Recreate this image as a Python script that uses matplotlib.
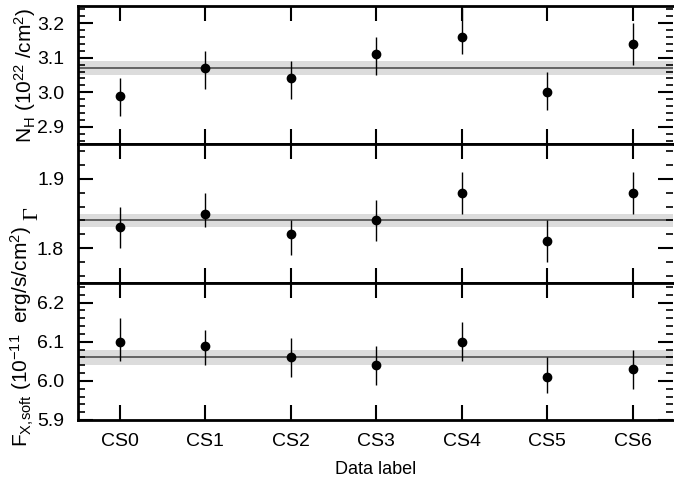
import numpy as np
import matplotlib
matplotlib.use("Agg")
import matplotlib.pyplot as plt
from matplotlib.ticker import MultipleLocator

plt.rcParams['font.family'] = ['Liberation Sans', 'DejaVu Sans']
plt.rcParams['font.size'] = 14
plt.rcParams['mathtext.fontset'] = 'custom'
plt.rcParams['mathtext.rm'] = 'Liberation Sans'
plt.rcParams['mathtext.it'] = 'Liberation Sans:italic'

labels = ["CS0", "CS1", "CS2", "CS3", "CS4", "CS5", "CS6"]

# N_H (1e22 /cm^2)
nh = [2.99, 3.07, 3.04, 3.11, 3.16, 3.00, 3.14]
nh_lo = [2.93, 3.01, 2.98, 3.05, 3.11, 2.95, 3.08]
nh_hi = [3.04, 3.12, 3.09, 3.16, 3.245, 3.06, 3.20]
nh_mean, nh_band = 3.07, (3.05, 3.09)

# photon index
gam = [1.83, 1.85, 1.82, 1.84, 1.88, 1.81, 1.88]
gam_lo = [1.80, 1.83, 1.79, 1.81, 1.85, 1.78, 1.85]
gam_hi = [1.86, 1.88, 1.84, 1.87, 1.91, 1.84, 1.91]
gam_mean, gam_band = 1.84, (1.83, 1.85)

# soft flux (1e-11 erg/s/cm^2)
fx = [6.10, 6.09, 6.06, 6.04, 6.10, 6.01, 6.03]
fx_lo = [6.05, 6.04, 6.01, 5.99, 6.05, 5.97, 5.98]
fx_hi = [6.16, 6.13, 6.11, 6.09, 6.15, 6.06, 6.08]
fx_mean, fx_band = 6.06, (6.04, 6.08)

panels = [
    (nh, nh_lo, nh_hi, nh_mean, nh_band, (2.85, 3.25), [2.9, 3.0, 3.1, 3.2]),
    (gam, gam_lo, gam_hi, gam_mean, gam_band, (1.75, 1.95), [1.8, 1.9]),
    (fx, fx_lo, fx_hi, fx_mean, fx_band, (5.9, 6.25), [5.9, 6.0, 6.1, 6.2]),
]

fig = plt.figure(figsize=(6.74, 4.83), dpi=100)
left, right = 78 / 674, 673 / 674
edges = [6, 144, 283, 420]
x = np.arange(len(labels))
axes = []
for i, (v, lo, hi, m, band, yl, yt) in enumerate(panels):
    y0 = 1 - edges[i + 1] / 483
    h = (edges[i + 1] - edges[i]) / 483
    ax = fig.add_axes([left, y0, right - left, h])
    axes.append(ax)
    ax.axhspan(band[0], band[1], color="#dcdcdc", lw=0, zorder=0)
    ax.axhline(m, color="#5a5a5a", lw=1.3, zorder=1)
    v = np.array(v)
    err = [v - np.array(lo), np.array(hi) - v]
    ax.errorbar(x, v, yerr=err, fmt="o", color="black", ms=6, elinewidth=1,
                capsize=0, zorder=3)
    ax.set_xlim(-0.49, 6.47)
    ax.set_ylim(*yl)
    ax.set_yticks(yt)
    ax.yaxis.set_minor_locator(MultipleLocator(0.02))
    ax.set_xticks(x)
    ax.tick_params(axis="both", which="major", direction="in", length=11, width=1.5,
                   top=True, right=True, labelsize=14)
    ax.tick_params(axis="y", which="minor", direction="in", length=5, width=1.2,
                   right=True)
    ax.tick_params(axis="y", which="major", length=11, pad=10)
    ax.tick_params(axis="x", which="major", pad=9)
    for s in ["left", "top", "bottom"]:
        ax.spines[s].set_linewidth(2)
    ax.spines["right"].set_visible(False)
    ax.yaxis.set_major_formatter(matplotlib.ticker.FormatStrFormatter("%.1f"))
    if i < 2:
        ax.tick_params(axis="x", labelbottom=False)
    else:
        ax.set_xticklabels(labels)
        ax.set_xlabel("Data label", fontsize=13, labelpad=8)

axes[0].set_ylabel(r"N$_\mathrm{H}$ (10$^{22}$ /cm$^2$)", fontsize=15)
axes[1].set_ylabel("Γ", fontsize=16, family="Liberation Serif")
axes[2].set_ylabel(r"F$_{\mathrm{X,\!soft}}$ (10$^{-11}$  erg/s/cm$^2$)", fontsize=15)
axes[0].yaxis.set_label_coords(-0.068, 0.5)
axes[1].yaxis.set_label_coords(-0.06, 0.5)
axes[2].yaxis.set_label_coords(-0.07, 0.61)

fig.savefig("out.png", dpi=100)
